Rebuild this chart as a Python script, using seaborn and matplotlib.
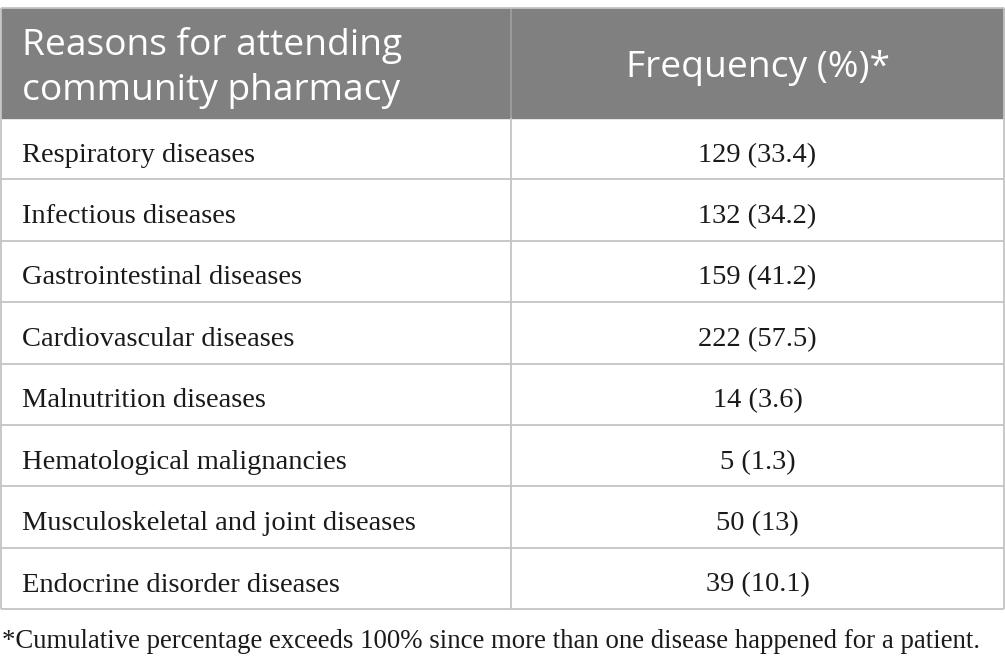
import matplotlib.pyplot as plt
from matplotlib.patches import Rectangle
import seaborn as sns

# table content
header = ["Reasons for attending\ncommunity pharmacy", "Frequency (%)*"]
reasons = ["Respiratory diseases", "Infectious diseases", "Gastrointestinal diseases",
           "Cardiovascular diseases", "Malnutrition diseases", "Hematological malignancies",
           "Musculoskeletal and joint diseases", "Endocrine disorder diseases"]
counts = [129, 132, 159, 222, 14, 5, 50, 39]
percents = ["33.4", "34.2", "41.2", "57.5", "3.6", "1.3", "13", "10.1"]
footnote = "*Cumulative percentage exceeds 100% since more than one disease happened for a patient."

sns.set_theme(style="white")

W, H = 1005, 668
fig = plt.figure(figsize=(W / 100, H / 100), dpi=100)
ax = fig.add_axes([0, 0, 1, 1])
ax.set_xlim(0, W)
ax.set_ylim(H, 0)
ax.axis("off")

# layout in pixels
top, head_h, row_h = 8, 110, 61.4
left, split, right = 1, 511, 1004
bottom = top + head_h + row_h * len(reasons)
grid = "#c4c4c4"

ax.add_patch(Rectangle((left, top), right - left, head_h, color="#808080", zorder=1))
ax.vlines(split, top, top + head_h, color="#a0a0a0", lw=1.2, zorder=2)

head_font = dict(family="Open Sans", size=26.7, color="white", va="center")
ax.text(22, top + head_h / 2 + 5, header[0], ha="left", linespacing=1.3, **head_font)
ax.text((split + right) / 2, top + head_h / 2 + 5, header[1], ha="center", **head_font)

body_font = dict(family="Liberation Serif", size=20.5, color="#1a1a1a", va="center")
for i, (r, c, p) in enumerate(zip(reasons, counts, percents)):
    y0 = top + head_h + i * row_h
    ax.hlines(y0 + row_h, left, right, color=grid, lw=1.3, zorder=2)
    ax.text(22, y0 + row_h / 2 + 6.5, r, ha="left", **body_font)
    ax.text((split + right) / 2, y0 + row_h / 2 + 6.5, f"{c} ({p})", ha="center", **body_font)

ax.vlines([left, split, right], top + head_h, bottom, color=grid, lw=1.3, zorder=2)
ax.hlines(top, left, right, color=grid, lw=1.3, zorder=2)
ax.vlines([left, right], top, top + head_h, color=grid, lw=1.3, zorder=2)

ax.text(2, bottom + 32, footnote, ha="left", va="center",
        family="Liberation Serif", size=19.3, color="#1a1a1a")

fig.savefig("out.png", dpi=100)
